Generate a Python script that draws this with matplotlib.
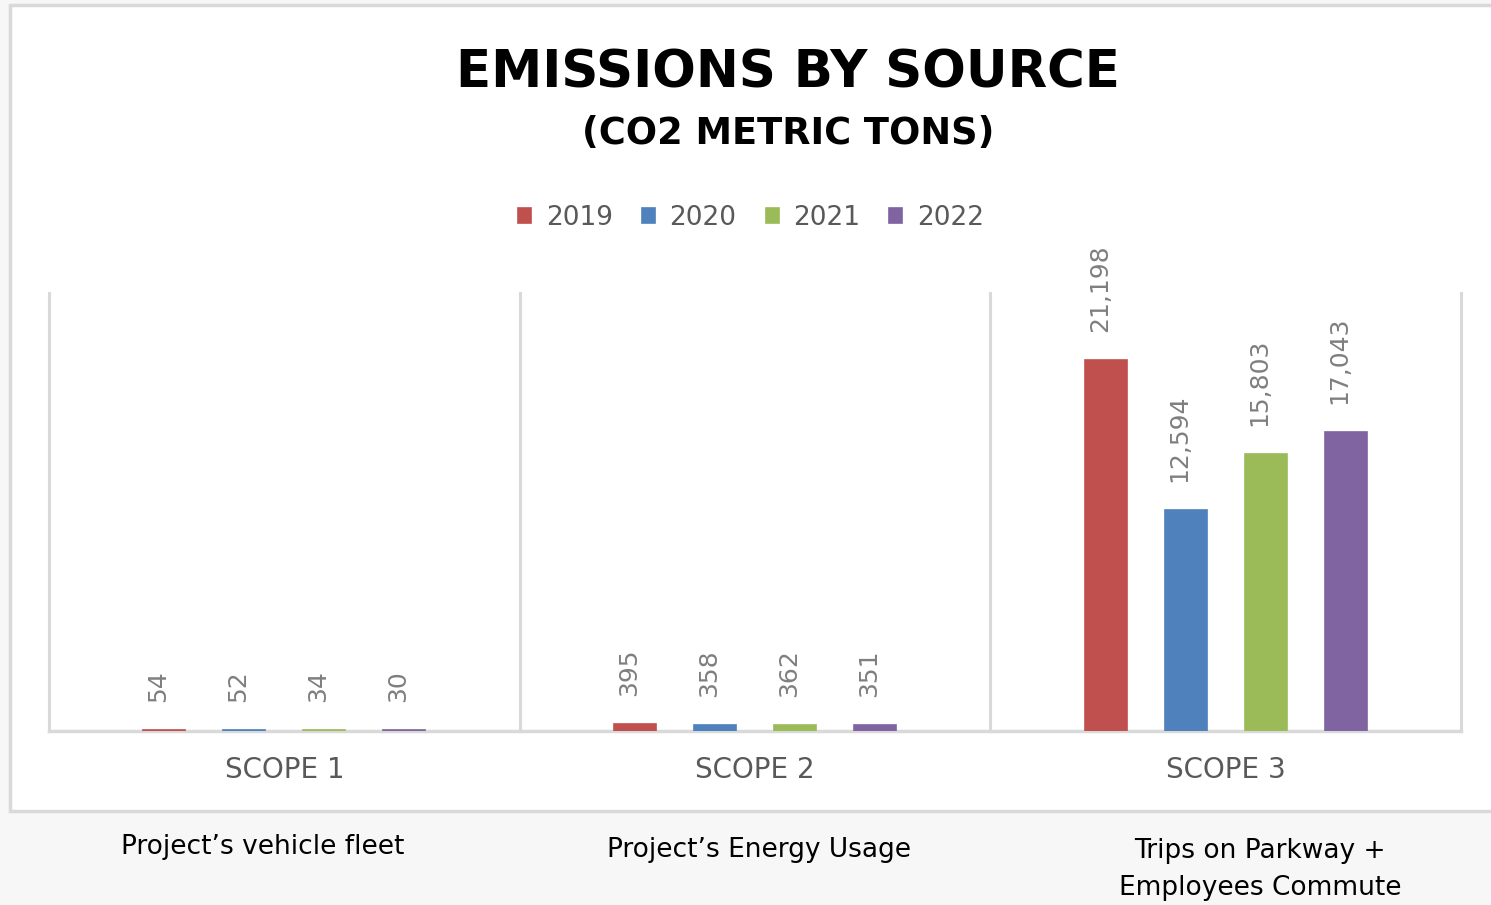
import matplotlib
matplotlib.use("Agg")
import matplotlib.pyplot as plt
from matplotlib.patches import Rectangle
import numpy as np

# data
scopes = ["SCOPE 1", "SCOPE 2", "SCOPE 3"]
years = ["2019", "2020", "2021", "2022"]
emissions = {
    "2019": [54, 395, 21198],
    "2020": [52, 358, 12594],
    "2021": [34, 362, 15803],
    "2022": [30, 351, 17043],
}
captions = ["Project\u2019s vehicle fleet", "Project\u2019s Energy Usage",
            "Trips on Parkway +\nEmployees Commute"]
colors = ["#C0504D", "#4F81BD", "#9BBB59", "#8064A2"]

W, H = 1491, 905
fig = plt.figure(figsize=(W / 100, H / 100), dpi=100, facecolor="#f7f7f7")

# white chart box with light grey frame
fig.patches.append(Rectangle((10 / W, 1 - 811 / H), 1.2, (811 - 5) / H,
                             transform=fig.transFigure, facecolor="white",
                             edgecolor="#d9d9d9", linewidth=2.5, zorder=-10))

ax = fig.add_axes([49 / W, 1 - 731 / H, (1461 - 49) / W, (731 - 293) / H])
ax.patch.set_alpha(0)

x = np.arange(len(scopes))
step = 0.170
width = 0.0894
handles = []
for i, yr in enumerate(years):
    vals = emissions[yr]
    bars = ax.bar(x + (i - 1.5) * step, vals, width, color=colors[i],
                  edgecolor=colors[i], linewidth=1.2, label=yr, zorder=3)
    handles.append(bars)
    for xi, v in zip(x + (i - 1.5) * step, vals):
        ax.annotate(f"{v:,}", (xi, v), xytext=(-6, 28), textcoords="offset pixels",
                    rotation=90, ha="center", va="bottom", fontsize=18,
                    color="#7f7f7f")

ax.set_xlim(-0.5, 2.5)
ax.set_ylim(0, 25000)
for sx in [-0.5, 0.5, 1.5, 2.5]:
    ax.axvline(sx, color="#d9d9d9", linewidth=2.2, zorder=1, clip_on=False)
for s in ax.spines.values():
    s.set_visible(False)
ax.axhline(0, color="#d9d9d9", linewidth=2.5, zorder=2, clip_on=False)
ax.set_yticks([])
ax.set_xticks(x)
ax.set_xticklabels(scopes, fontsize=20, color="#595959")
ax.tick_params(axis="x", length=0, pad=18)

fig.text(788 / W, 1 - 74 / H, "EMISSIONS BY SOURCE", ha="center", va="center",
         fontsize=37, fontweight="bold", color="black")
fig.text(788 / W, 1 - 134 / H, "(CO2 METRIC TONS)", ha="center", va="center",
         fontsize=26.5, fontweight="bold", color="black")

fig.legend(handles=handles, labels=years, loc="center",
           bbox_to_anchor=(751 / W, 1 - 218 / H), ncol=4, frameon=False,
           fontsize=19, labelcolor="#595959", handlelength=0.5,
           handleheight=0.5, handletextpad=0.55, columnspacing=1.1)

cap_pos = [(263, 847), (759, 850), (1260, 869)]
for (cx, cy), txt in zip(cap_pos, captions):
    fig.text(cx / W, 1 - cy / H, txt, ha="center", va="center", fontsize=19,
             color="black", linespacing=1.55)

fig.savefig("out.png", dpi=100, facecolor=fig.get_facecolor())
